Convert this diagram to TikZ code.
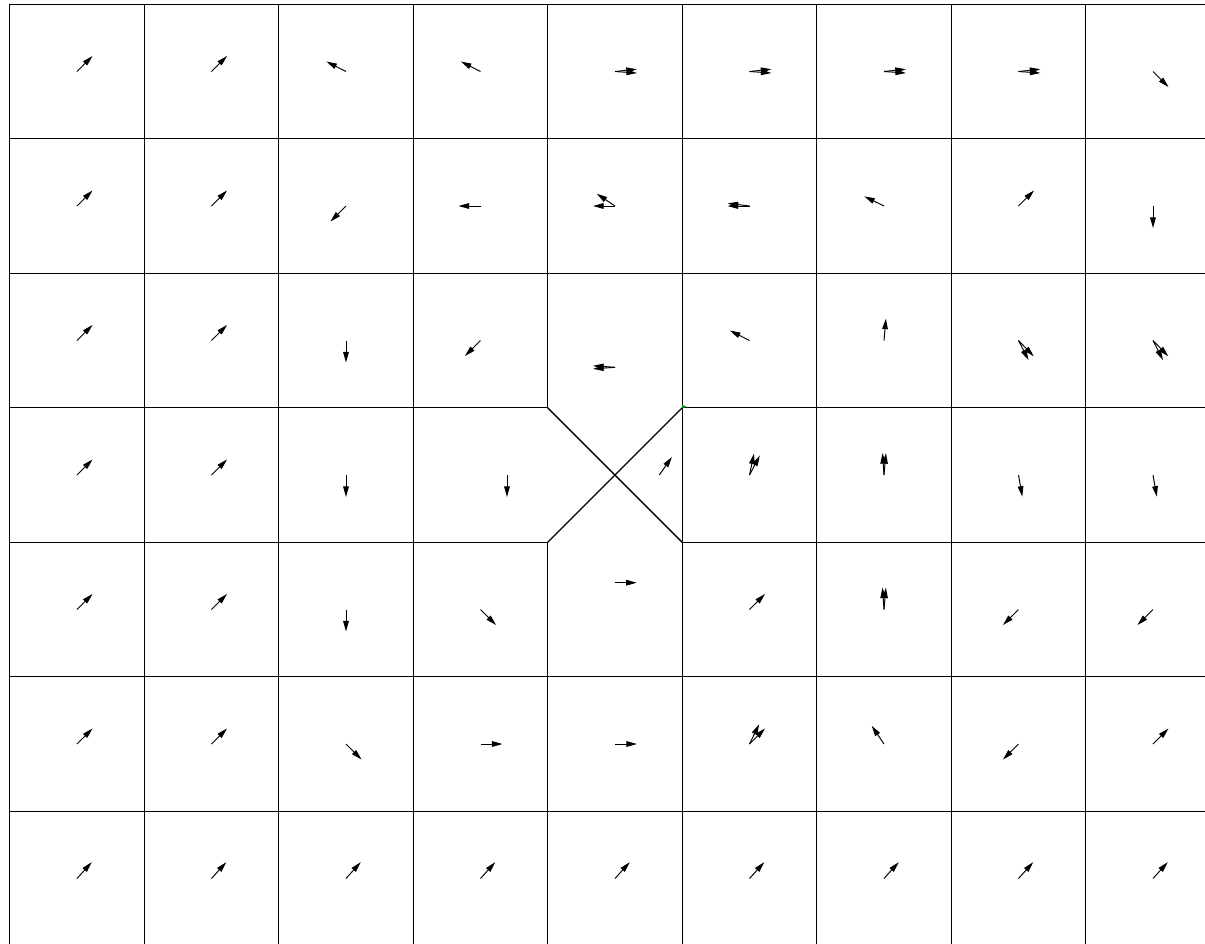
\documentclass[tikz,border=0pt]{standalone}
\usetikzlibrary{arrows.meta}

\begin{document}
\begin{tikzpicture}[
  x=0.02cm, y=-0.02cm,
  malha/.style={line width=0.75pt, black},
  vetor/.style={-{Triangle[length=6pt, width=3.2pt]}, line width=0.55pt},
  marca/.style={fill=green!60!black}
]
  \useasboundingbox (0,0) rectangle (1205,944);
  \clip (0,0) rectangle (1205,944);

  % Cantos do X central
  \coordinate (xno) at (547.7,407.8);
  \coordinate (xne) at (682.2,407.8);
  \coordinate (xso) at (547.7,542.3);
  \coordinate (xse) at (682.2,542.3);

  % Grade
  \foreach \i in {0,1,2,3,5,6,7,8}
    \draw[malha] ({9.7+134.5*\i},4.3) -- ({9.7+134.5*\i},945.8);
  \draw[malha] (547.7,4.3) -- (xno) (xso) -- (547.7,945.8);
  \foreach \j in {0,1,2,5,6}
    \draw[malha] (9.7,{4.3+134.5*\j}) -- (1220.2,{4.3+134.5*\j});
  \draw[malha] (9.7,407.8) -- (xno) (xne) -- (1220.2,407.8);
  \draw[malha] (9.7,542.3) -- (xso) (xse) -- (1220.2,542.3);
  \draw[malha] (xno) -- (xse) (xne) -- (xso);
  \fill[marca] (682.2,404.8) -- (686.5,406.6) -- (682.2,408.3) -- cycle;

  % Vetores (coluna/linha/angulo)
  \foreach \c/\r/\a in {0/0/45, 1/0/45, 2/0/153, 3/0/153, 4/0/6, 4/0/-4, 5/0/6, 5/0/-4,
      6/0/6, 6/0/-4, 7/0/6, 7/0/-4, 8/0/-45,
      0/1/45, 1/1/45, 2/1/-135, 3/1/180, 4/1/180, 4/1/146, 5/1/180, 5/1/173,
      6/1/154, 7/1/45, 8/1/-90,
      0/2/45, 1/2/45, 2/2/-90, 3/2/-135, 5/2/153, 6/2/85, 7/2/-46, 7/2/-63,
      8/2/-46, 8/2/-63,
      0/3/45, 1/3/45, 2/3/-90, 5/3/62, 5/3/78, 6/3/85, 6/3/94, 7/3/-80, 8/3/-80,
      0/4/45, 1/4/45, 2/4/-90, 3/4/-45, 5/4/45, 6/4/85, 6/4/94, 7/4/-135, 8/4/-135,
      0/5/45, 1/5/45, 2/5/-45, 3/5/0, 4/5/0, 5/5/45, 5/5/64, 6/5/124, 7/5/-135,
      8/5/45,
      0/6/48, 1/6/48, 2/6/48, 3/6/48, 4/6/48, 5/6/48, 6/6/48, 7/6/48, 8/6/48}
    \draw[vetor] ({77+134.5*\c},{71.5+134.5*\r}) -- ++(\a:0.44cm);

  % Celulas em volta do X
  \draw[vetor] (615,367.3) -- ++(176:0.44cm);
  \draw[vetor] (615,367.3) -- ++(184:0.44cm);
  \draw[vetor] (507,475) -- ++(-90:0.44cm);
  \draw[vetor] (659.3,475) -- ++(55:0.44cm);
  \draw[vetor] (614.7,582.7) -- ++(0:0.44cm);
\end{tikzpicture}
\end{document}
